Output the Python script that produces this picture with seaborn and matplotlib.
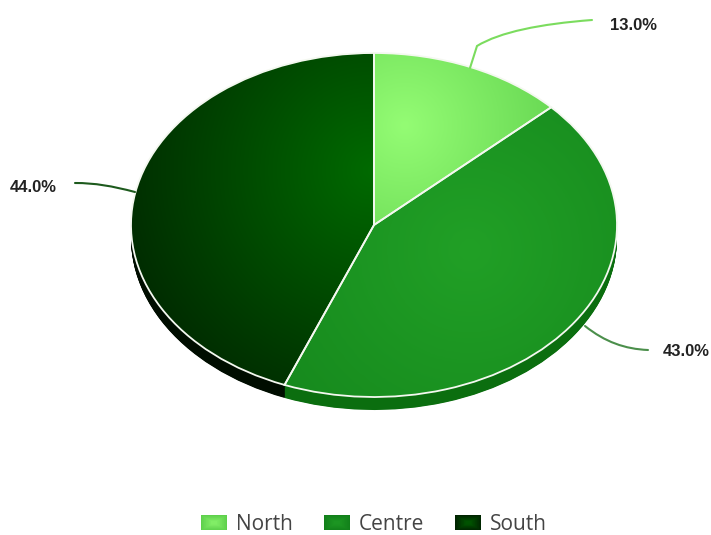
import numpy as np
import matplotlib
matplotlib.use("Agg")
import matplotlib.pyplot as plt
import seaborn as sns
from matplotlib.legend_handler import HandlerBase
from matplotlib.patches import PathPatch, Patch, Rectangle
from matplotlib.path import Path

regions = ["North", "Centre", "South"]
shares = [13.0, 43.0, 44.0]
inner_colors = ["#94fc74", "#21a026", "#006a00"]
outer_colors = ["#5ed04c", "#12801a", "#002400"]
side_colors = ["#3f9a30", "#0b6e0f", "#000d00"]
leader_colors = ["#7bdc5e", "#4b8f4b", "#1d5a1d"]

WIDTH, HEIGHT = 711, 535
CX, CY, RX, RY = 374.0, 225.0, 243.0, 172.0
DEPTH = 13


def to_data(px, py):
    return (px - CX) / RX, (CY - py) / RY


sns.set_theme(style="white")
fig = plt.figure(figsize=(WIDTH / 100, HEIGHT / 100), dpi=100, facecolor="white")
ax = fig.add_axes([0, 0, 1, 1])

# Extruded rim: stacked copies of the pie, moved down a little at a time.
for step in np.arange(DEPTH, 0, -0.5):
    ax.pie(shares, startangle=90, counterclock=False, colors=side_colors,
           center=(0, -step / RY), wedgeprops=dict(linewidth=0, zorder=1))

# Top face, with white slice outlines.
wedges, _ = ax.pie(shares, startangle=90, counterclock=False,
                   wedgeprops=dict(edgecolor="#f4f8f0", linewidth=1.3,
                                   facecolor="none", zorder=3))

xlim = (to_data(0, 0)[0], to_data(WIDTH, 0)[0])
ylim = (to_data(0, HEIGHT)[1], to_data(0, 0)[1])

# Radial shading of each slice, clipped to that slice.
focus_points = [(405, 125, 190), (470, 250, 330), (372, 170, 290)]
gx, gy = np.meshgrid(np.linspace(0, WIDTH, WIDTH // 2),
                     np.linspace(0, HEIGHT, HEIGHT // 2))
for wedge, c0, c1, (fx, fy, fr) in zip(wedges, inner_colors, outer_colors, focus_points):
    ramp = sns.blend_palette([c0, c1], 128, as_cmap=True)
    dist = np.hypot(gx - fx, gy - fy) / fr
    image = ax.imshow(dist, cmap=ramp, vmin=0, vmax=1, zorder=2, aspect="auto",
                      extent=(*xlim, ylim[0], ylim[1]), origin="upper",
                      interpolation="bilinear")
    image.set_clip_path(wedge.get_path(), wedge.get_transform())

# Leader lines, each one starting on the rim of its slice.
leaders = [
    [(470, 68), (477, 46), (500, 32), (540, 24), (592, 20)],
    [(585, 326), (585, 326), (605, 342), (625, 349), (648, 350)],
    [(135, 192), (135, 192), (112, 186), (95, 183), (75, 183)],
]
label_spots = [(610, 25), (663, 352), (10, 188)]
leader_codes = [Path.MOVETO, Path.LINETO, Path.CURVE4, Path.CURVE4, Path.CURVE4]
for points, color, spot, share in zip(leaders, leader_colors, label_spots, shares):
    verts = [to_data(*p) for p in points]
    ax.add_patch(PathPatch(Path(verts, leader_codes), facecolor="none", edgecolor=color,
                           linewidth=1.5, capstyle="round", zorder=4))
    ax.text(*to_data(*spot), f"{share:.1f}%", fontsize=12, fontweight="bold",
            family="Liberation Sans", color="#222222", ha="left", va="center")


class GlowSwatch(HandlerBase):
    """Legend key drawn as nested rectangles, lighter toward the middle."""

    def __init__(self, centre, edge):
        super().__init__()
        self.centre, self.edge = centre, edge

    def create_artists(self, legend, orig_handle, xdescent, ydescent,
                       width, height, fontsize, trans):
        key = orig_handle.get_label()
        shades = sns.blend_palette([self.edge[key], self.centre[key]], 24)[:16]
        boxes = []
        for i, shade in enumerate(shades):
            inset = i / 16 * 0.42
            boxes.append(Rectangle((-xdescent + width * inset, -ydescent + height * inset),
                                   width * (1 - 2 * inset), height * (1 - 2 * inset),
                                   facecolor=shade, edgecolor="none", transform=trans))
        return boxes


handles = [Patch(label=name) for name in regions]
swatch = GlowSwatch(dict(zip(regions, inner_colors)), dict(zip(regions, outer_colors)))
legend = ax.legend(handles=handles, ncol=3, frameon=False, loc="lower left",
                   bbox_to_anchor=(201 / WIDTH, 0.0),
                   handler_map={h: swatch for h in handles},
                   prop=dict(family="Open Sans", size=15),
                   handlelength=1.25, handleheight=0.75, handletextpad=0.42,
                   columnspacing=1.5, borderpad=0, borderaxespad=0)
for text in legend.get_texts():
    text.set_color("#444444")

ax.set_aspect("auto")
ax.set_xlim(xlim)
ax.set_ylim(ylim)
ax.set_axis_off()
fig.savefig("out.png", dpi=100)
